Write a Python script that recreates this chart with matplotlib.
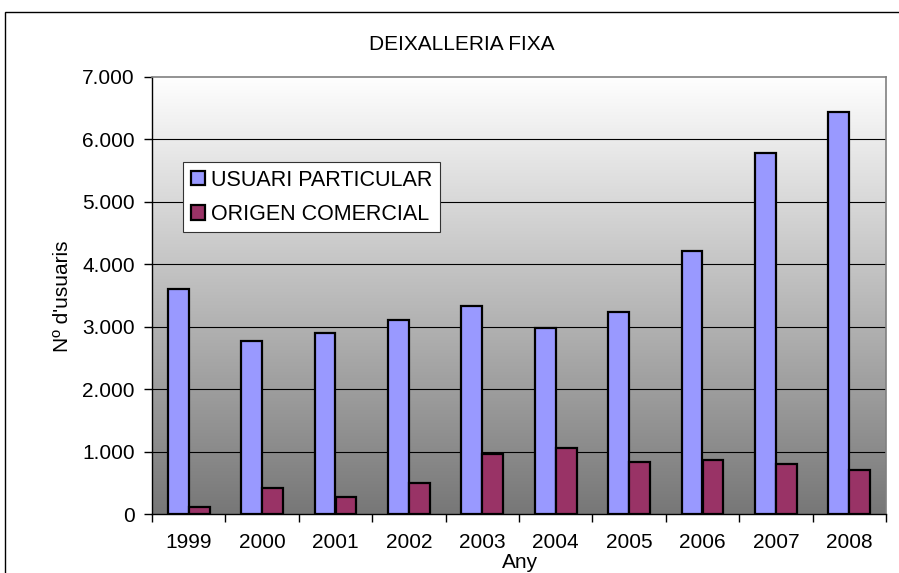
import numpy as np
import matplotlib
matplotlib.use("Agg")
import matplotlib.pyplot as plt
from matplotlib.colors import LinearSegmentedColormap
from matplotlib.patches import Rectangle
from matplotlib.ticker import FixedLocator, FuncFormatter

years = ["1999", "2000", "2001", "2002", "2003", "2004", "2005", "2006", "2007", "2008"]
particular = [3600, 2775, 2895, 3110, 3330, 2985, 3230, 4215, 5780, 6445]
comercial = [120, 410, 280, 500, 965, 1060, 830, 870, 805, 705]

title = "DEIXALLERIA FIXA"
ylabel = "Nº d'usuaris"
xlabel = "Any"

plt.rcParams["font.family"] = ["Liberation Sans", "DejaVu Sans"]
FS = 15
W, H = 899, 573

fig = plt.figure(figsize=(W / 100, H / 100), dpi=100)
ax = fig.add_axes([152 / W, 1 - 514 / H, (886 - 152) / W, (514 - 77) / H])

# outer chart border
fig.patches.append(Rectangle((5 / W, -0.1), 1.2, 1.1 - 12 / H, transform=fig.transFigure,
                             fill=False, edgecolor="black", linewidth=1.0))

n = len(years)
x = np.arange(n)
ax.set_xlim(-0.5, n - 0.5)
ax.set_ylim(0, 7000)

# gradient background: white at top to grey at bottom
cmap = LinearSegmentedColormap.from_list("bg", ["#777777", "#ffffff"])
grad = np.linspace(1, 0, 256).reshape(-1, 1)
ax.imshow(grad, cmap=cmap, extent=[-0.5, n - 0.5, 0, 7000], aspect="auto",
          interpolation="bilinear", zorder=-1, vmin=0, vmax=1)

for v in range(1000, 7000, 1000):
    ax.axhline(v, color="black", linewidth=0.8, zorder=0.5)

w = 0.285
ax.bar(x - w / 2, particular, w, color="#9999ff", edgecolor="black", linewidth=1.6,
       label="USUARI PARTICULAR", zorder=2)
ax.bar(x + w / 2, comercial, w, color="#993366", edgecolor="black", linewidth=1.6,
       label="ORIGEN COMERCIAL", zorder=2)

for side in ["left", "bottom"]:
    ax.spines[side].set_color("black")
    ax.spines[side].set_linewidth(1.0)
for side in ["top", "right"]:
    ax.spines[side].set_color("#808080")
    ax.spines[side].set_linewidth(1.2)

ax.set_yticks(range(0, 8000, 1000))
ax.yaxis.set_major_formatter(FuncFormatter(lambda v, p: f"{int(v):,}".replace(",", ".")))
ax.tick_params(axis="y", direction="out", length=6, width=1, pad=6.5, labelsize=FS)

ax.xaxis.set_major_locator(FixedLocator(np.arange(-0.5, n, 1.0)))
ax.xaxis.set_major_formatter(FuncFormatter(lambda v, p: ""))
ax.xaxis.set_minor_locator(FixedLocator(x))
ax.set_xticklabels(years, minor=True)
ax.tick_params(axis="x", which="major", direction="out", length=6, width=1)
ax.tick_params(axis="x", which="minor", length=0, pad=14, labelsize=FS)

leg = ax.legend(loc="upper left", bbox_to_anchor=((183 - 152) / 734, (514 - 162) / 437),
                borderaxespad=0, fontsize=15.5, frameon=True, fancybox=False,
                handlelength=0.65, handleheight=0.65, handletextpad=0.3,
                labelspacing=0.62, borderpad=0.35)
leg.get_frame().set_edgecolor("#333333")
leg.get_frame().set_linewidth(0.8)
leg.get_frame().set_alpha(1)

fig.text(462 / W, 1 - 50 / H, title, ha="center", va="baseline", fontsize=FS)
fig.text(68 / W, 1 - 296 / H, ylabel, ha="center", va="baseline", rotation=90,
         rotation_mode="anchor", fontsize=FS)
fig.text(520 / W, 1 - 568 / H, xlabel, ha="center", va="baseline", fontsize=FS)

fig.savefig("out.png", dpi=100)
